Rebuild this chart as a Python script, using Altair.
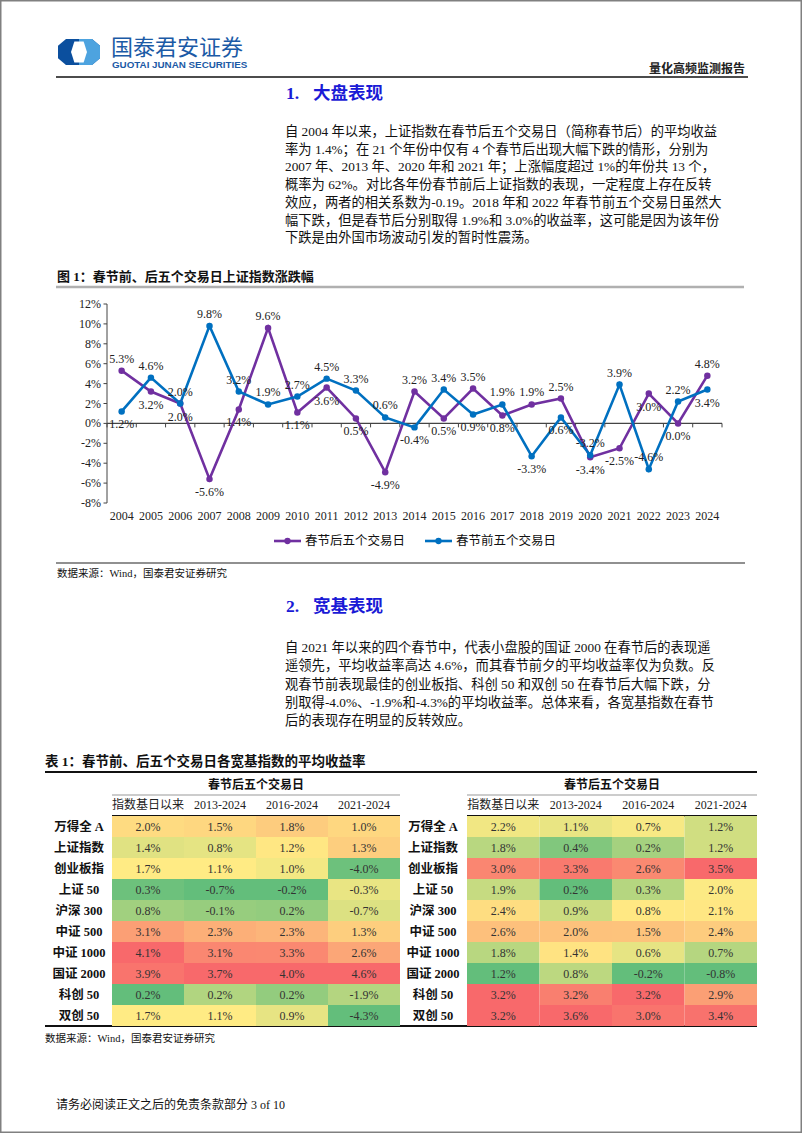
import altair as alt
import pandas as pd

# ---------------- data ----------------
years = list(range(2004, 2025))
after_vals = [5.3, 3.2, 2.0, -5.6, 1.4, 9.6, 1.1, 3.6, 0.5, -4.9, 3.2, 0.5, 3.5, 0.8, 1.9, 2.5, -3.4, -2.5, 3.0, 0.0, 4.8]
before_vals = [1.2, 4.6, 2.0, 9.8, 3.2, 1.9, 2.7, 4.5, 3.3, 0.6, -0.4, 3.4, 0.9, 1.9, -3.3, 0.6, -3.2, 3.9, -4.6, 2.2, 3.4]
after_label_above = [True, False, False, False, False, True, False, False, False, False, True,
                     False, True, False, True, True, False, False, False, False, True]
before_label_above = [False, True, True, True, True, True, True, True, True, True, False,
                      True, False, True, False, False, True, True, True, True, False]
series_names = ["春节后五个交易日", "春节前五个交易日"]
series_colors = ["#7030A0", "#0070C0"]
y_ticks = [-8, -6, -4, -2, 0, 2, 4, 6, 8, 10, 12]

index_names = ["万得全 A", "上证指数", "创业板指", "上证 50", "沪深 300",
               "中证 500", "中证 1000", "国证 2000", "科创 50", "双创 50"]
periods = ["指数基日以来", "2013-2024", "2016-2024", "2021-2024"]
left_since_base = [2.0, 1.4, 1.7, 0.3, 0.8, 3.1, 4.1, 3.9, 0.2, 1.7]
left_2013 = [1.5, 0.8, 1.1, -0.7, -0.1, 2.3, 3.1, 3.7, 0.2, 1.1]
left_2016 = [1.8, 1.2, 1.0, -0.2, 0.2, 2.3, 3.3, 4.0, 0.2, 0.9]
left_2021 = [1.0, 1.3, -4.0, -0.3, -0.7, 1.3, 2.6, 4.6, -1.9, -4.3]
right_since_base = [2.2, 1.8, 3.0, 1.9, 2.4, 2.6, 1.8, 1.2, 3.2, 3.2]
right_2013 = [1.1, 0.4, 3.3, 0.2, 0.9, 2.0, 1.4, 0.8, 3.2, 3.6]
right_2016 = [0.7, 0.2, 2.6, 0.3, 0.8, 1.5, 0.6, -0.2, 3.2, 3.0]
right_2021 = [1.2, 1.2, 3.5, 2.0, 2.1, 2.4, 0.7, -0.8, 2.9, 3.4]
table_group_title = "春节后五个交易日"

para1 = [
    "自 2004 年以来，上证指数在春节后五个交易日（简称春节后）的平均收益",
    "率为 1.4%；在 21 个年份中仅有 4 个春节后出现大幅下跌的情形，分别为",
    "2007 年、2013 年、2020 年和 2021 年；上涨幅度超过 1%的年份共 13 个，",
    "概率为 62%。对比各年份春节前后上证指数的表现，一定程度上存在反转",
    "效应，两者的相关系数为-0.19。2018 年和 2022 年春节前五个交易日虽然大",
    "幅下跌，但是春节后分别取得 1.9%和 3.0%的收益率，这可能是因为该年份",
    "下跌是由外国市场波动引发的暂时性震荡。",
]
para2 = [
    "自 2021 年以来的四个春节中，代表小盘股的国证 2000 在春节后的表现遥",
    "遥领先，平均收益率高达 4.6%，而其春节前夕的平均收益率仅为负数。反",
    "观春节前表现最佳的创业板指、科创 50 和双创 50 在春节后大幅下跌，分",
    "别取得-4.0%、-1.9%和-4.3%的平均收益率。总体来看，各宽基指数在春节",
    "后的表现存在明显的反转效应。",
]

SERIF = "Liberation Serif, Noto Sans CJK SC, serif"
CJK = "Noto Sans CJK SC, sans-serif"
HEAD_BLUE = "#1a1ad6"
ONE = pd.DataFrame({"k": [0]})


def hline(x1, x2, y, color, w):
    return alt.Chart(ONE).mark_rule(color=color, strokeWidth=w).encode(
        x=alt.value(x1), x2=alt.value(x2), y=alt.value(y))


def label(txt, x, y, size, weight="normal", color="#111111", align="left", font=SERIF):
    return alt.Chart(pd.DataFrame({"t": [txt]})).mark_text(
        align=align, baseline="middle", fontSize=size, fontWeight=weight,
        color=color, font=font).encode(x=alt.value(x), y=alt.value(y), text="t:N")


def logo_part(path, color, cx, cy, size):
    return alt.Chart(ONE).mark_point(shape=path, filled=True, color=color, opacity=1,
                                     size=size, strokeWidth=0).encode(
        x=alt.value(cx), y=alt.value(cy))


static = []
# ---------- header ----------
oct_path = "M-1,-0.3 L-0.62,-0.62 L0.62,-0.62 L1,-0.3 L1,0.3 L0.62,0.62 L-0.62,0.62 L-1,0.3 Z"
right_path = "M0,-0.62 L0.62,-0.62 L1,-0.3 L1,0.3 L0.62,0.62 L0,0.62 Z"
hex_path = "M-0.22,-0.5 L0.22,-0.5 L0.38,0 L0.22,0.5 L-0.22,0.5 L-0.38,0 Z"
static += [
    logo_part(oct_path, "#0b4f9e", 79, 52, 1764),
    logo_part(right_path, "#4da3df", 79, 52, 1764),
    logo_part(hex_path, "#ffffff", 79, 52, 1764),
    label("国泰君安证券", 111, 47.5, 22, "normal", "#1b5aa6", font=CJK),
    label("GUOTAI JUNAN SECURITIES", 112, 64.5, 9.8, "bold", "#1b5aa6", font="Liberation Sans, sans-serif"),
    label("量化高频监测报告", 745, 69, 12, "bold", "#222222", align="right"),
    hline(56, 748, 77, "#111111", 1.5),
]
# ---------- section 1 ----------
static += [label("1.", 286, 94, 17.5, "bold", HEAD_BLUE),
           label("大盘表现", 313, 94, 17.5, "bold", HEAD_BLUE)]
for i, line in enumerate(para1):
    static.append(label(line, 285, 132 + i * 17.7, 13.3))
static += [
    label("图 1：春节前、后五个交易日上证指数涨跌幅", 57, 277, 13, "bold"),
    hline(56, 744, 287, "#b0b0b0", 2.5),
]
# legend
legend_x = [274, 425]
for name, col, lx in zip(series_names, series_colors, legend_x):
    static += [
        alt.Chart(ONE).mark_rule(color=col, strokeWidth=2.6).encode(
            x=alt.value(lx), x2=alt.value(lx + 27), y=alt.value(541)),
        alt.Chart(ONE).mark_circle(color=col, size=40, opacity=1).encode(
            x=alt.value(lx + 13.5), y=alt.value(541)),
        label(name, lx + 31, 541, 12.5),
    ]
static += [
    hline(56, 745, 563, "#222222", 1.2),
    label("数据来源：Wind，国泰君安证券研究", 57, 574, 10.5),
]
# ---------- section 2 ----------
static += [label("2.", 286, 607, 17.5, "bold", HEAD_BLUE),
           label("宽基表现", 313, 607, 17.5, "bold", HEAD_BLUE)]
for i, line in enumerate(para2):
    static.append(label(line, 285, 648 + i * 18.3, 13.3))
static += [
    label("表 1：春节前、后五个交易日各宽基指数的平均收益率", 45, 762, 13.5, "bold"),
    hline(45, 757, 772, "#111111", 2),
    label(table_group_title, 256, 785, 12, "bold", align="center"),
    label(table_group_title, 612, 785, 12, "bold", align="center"),
    hline(112, 400, 795, "#999999", 1),
    hline(467, 757, 795, "#999999", 1),
    hline(112, 400, 816, "#111111", 2),
    hline(467, 757, 816, "#111111", 2),
    hline(45, 757, 1026, "#111111", 2),
    label("数据来源：Wind，国泰君安证券研究", 45, 1039, 10.5),
    label("请务必阅读正文之后的免责条款部分 3 of 10", 56, 1105, 12),
]

# ---------------- line chart ----------------
line_df = pd.DataFrame({
    "year": years * 2,
    "value": after_vals + before_vals,
    "series": [series_names[0]] * len(years) + [series_names[1]] * len(years),
    "above": after_label_above + before_label_above,
})
line_df["lab"] = [f"{v:.1f}%" for v in line_df["value"]]

xs = alt.Scale(domain=[years[0] - 0.5, years[-1] + 0.5], range=[107, 722], nice=False, zero=False)
ys = alt.Scale(domain=[y_ticks[0], y_ticks[-1]], range=[503, 304], nice=False, zero=False)
X = alt.X("year:Q", scale=xs, axis=None)
Y = alt.Y("value:Q", scale=ys, axis=None)
C = alt.Color("series:N", scale=alt.Scale(domain=series_names, range=series_colors), legend=None)

base = alt.Chart(line_df)
tick_df = pd.DataFrame({"v": y_ticks, "lab": [f"{t}%" for t in y_ticks]})
bounds_df = pd.DataFrame({"b": [y - 0.5 for y in years] + [years[-1] + 0.5], "z": 0, "z2": -0.4})
axis_df = pd.DataFrame({"lo": [y_ticks[0]], "hi": [y_ticks[-1]],
                        "x0": [years[0] - 0.5], "x1": [years[-1] + 0.5], "z": [0]})
year_df = pd.DataFrame({"year": years, "lab": [str(y) for y in years]})

line_layer = alt.layer(
    alt.Chart(axis_df).mark_rule(color="#444444", strokeWidth=1).encode(
        x=alt.value(107), y=alt.Y("lo:Q", scale=ys, axis=None), y2="hi:Q"),
    alt.Chart(tick_df).mark_rule(color="#444444", strokeWidth=1).encode(
        x=alt.value(103.5), x2=alt.value(107), y=alt.Y("v:Q", scale=ys, axis=None)),
    alt.Chart(tick_df).mark_text(align="right", baseline="middle", font=SERIF, fontSize=12,
                                 color="#222222").encode(
        x=alt.value(101), y=alt.Y("v:Q", scale=ys, axis=None), text="lab:N"),
    alt.Chart(axis_df).mark_rule(color="#444444", strokeWidth=1.2).encode(
        x=alt.X("x0:Q", scale=xs, axis=None), x2="x1:Q", y=alt.Y("z:Q", scale=ys, axis=None)),
    alt.Chart(bounds_df).mark_rule(color="#444444", strokeWidth=1).encode(
        x=alt.X("b:Q", scale=xs, axis=None), y=alt.Y("z:Q", scale=ys, axis=None), y2="z2:Q"),
    alt.Chart(year_df).mark_text(baseline="middle", font=SERIF, fontSize=12, color="#222222").encode(
        x=X, y=alt.value(516), text="lab:N"),
    base.mark_line(strokeWidth=2.6).encode(X, Y, C),
    base.mark_circle(size=42, opacity=1).encode(X, Y, C),
    base.transform_filter("datum.above").mark_text(
        dy=-12, font=SERIF, fontSize=12, color="#222222").encode(X, Y, text="lab:N"),
    base.transform_filter("!datum.above").mark_text(
        dy=13, font=SERIF, fontSize=12, color="#222222").encode(X, Y, text="lab:N"),
)


# ---------------- tables ----------------
def make_table(cols, x0, x1, label_x):
    rows = []
    for p, vals in zip(periods, cols):
        for r, v in zip(index_names, vals):
            rows.append({"row": r, "col": p, "value": v, "lab": f"{v:.1f}%"})
    df = pd.DataFrame(rows)
    tx = alt.X("col:N", scale=alt.Scale(domain=periods, range=[x0, x1], paddingInner=0, paddingOuter=0), axis=None)
    ty = alt.Y("row:N", scale=alt.Scale(domain=index_names, range=[816, 1026], paddingInner=0, paddingOuter=0), axis=None)
    rect = alt.Chart(df).transform_joinaggregate(
        mn="min(value)", mx="max(value)", md="median(value)", groupby=["col"]
    ).transform_calculate(
        norm="datum.value >= datum.md ? (datum.value - datum.md) / max(datum.mx - datum.md, 1e-9)"
             " : (datum.value - datum.md) / max(datum.md - datum.mn, 1e-9)"
    ).mark_rect().encode(
        tx, ty,
        color=alt.Color("norm:Q", scale=alt.Scale(domain=[-1, 0, 1],
                                                  range=["#63BE7B", "#FFEB84", "#F8696B"],
                                                  interpolate="rgb"), legend=None))
    txt = alt.Chart(df).mark_text(font=SERIF, fontSize=12, color="#333333", baseline="middle").encode(
        tx, ty, text="lab:N")
    hdr = alt.Chart(pd.DataFrame({"col": periods})).mark_text(
        font=SERIF, fontSize=12, color="#222222", baseline="middle").encode(
        tx, y=alt.value(805), text="col:N")
    rl = alt.Chart(pd.DataFrame({"row": index_names})).mark_text(
        font=SERIF, fontSize=12.5, fontWeight="bold", color="#111111", baseline="middle").encode(
        x=alt.value(label_x), y=ty, text="row:N")
    return alt.layer(rect, txt, hdr, rl)


left_table = make_table([left_since_base, left_2013, left_2016, left_2021], 112, 400, 79)
right_table = make_table([right_since_base, right_2013, right_2016, right_2021], 467, 757, 433)

chart = alt.layer(*static, line_layer, left_table, right_table).resolve_scale(
    x="independent", y="independent", color="independent"
).properties(
    width=802, height=1133, padding=0, background="white",
    autosize=alt.AutoSizeParams(type="none"),
).configure_view(stroke="#808080", strokeWidth=3)

chart.save("out.html", embed_options={"renderer": "svg", "actions": False})
